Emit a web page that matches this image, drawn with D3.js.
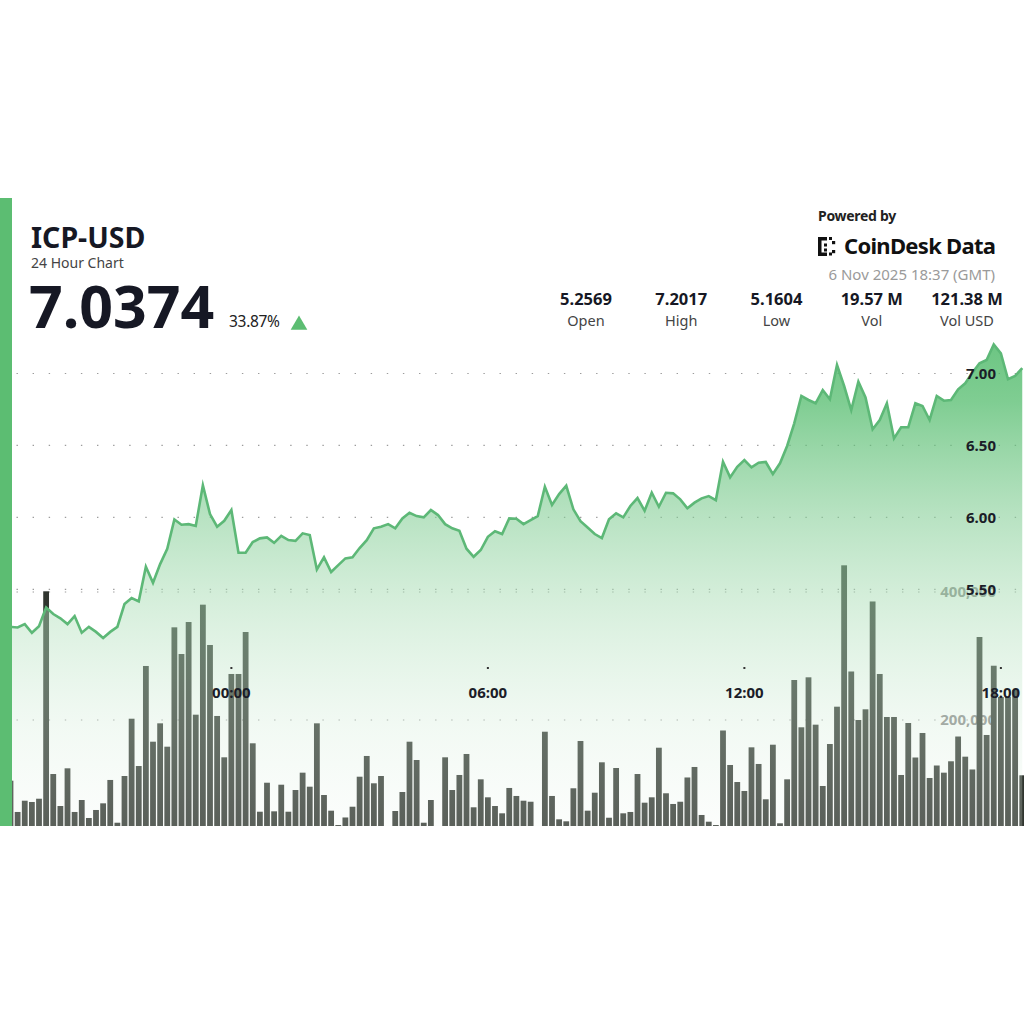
<!DOCTYPE html>
<html><head><meta charset="utf-8">
<script src="https://cdn.jsdelivr.net/npm/d3@7"></script>
<style>
body{margin:0;background:#fff}
svg{display:block}
text{font-family:"Noto Sans","Open Sans",sans-serif}
</style>
</head><body>
<svg id="chart" width="1024" height="1024"></svg>
<script>
// ---------- data ----------
const symbol = "ICP-USD";
const subtitle = "24 Hour Chart";
const lastPrice = "7.0374";
const changePct = "33.87%";
const statValues = ["5.2569", "7.2017", "5.1604", "19.57 M", "121.38 M"];
const statLabels = ["Open", "High", "Low", "Vol", "Vol USD"];
const poweredBy = "Powered by";
const brand = "CoinDesk Data";
const timestamp = "6 Nov 2025 18:37 (GMT)";
const priceTicks = [5.5, 6.0, 6.5, 7.0];
const volumeTicks = [200000, 400000];
const timeTicks = ["2025-11-06T00:00:00Z", "2025-11-06T06:00:00Z", "2025-11-06T12:00:00Z", "2025-11-06T18:00:00Z"];
const firstTime = "2025-11-05T18:50:00Z";
const intervalMinutes = 10;

const prices = [
5.239,5.235,5.258,5.198,5.244,5.374,5.328,5.298,5.258,5.314,
5.198,5.239,5.204,5.162,5.204,5.239,5.397,5.439,5.416,5.657,
5.545,5.675,5.782,5.986,5.949,5.953,5.940,6.223,6.023,5.935,
5.976,6.051,5.754,5.754,5.828,5.854,5.861,5.823,5.872,5.842,
5.837,5.889,5.877,5.638,5.722,5.620,5.668,5.715,5.722,5.787,
5.842,5.924,5.935,5.953,5.924,5.993,6.032,6.009,6.000,6.051,
6.016,5.953,5.924,5.907,5.782,5.726,5.773,5.865,5.903,5.884,
5.993,5.990,5.953,5.981,6.009,6.213,6.086,6.162,6.220,6.056,
5.974,5.930,5.884,5.856,5.986,6.028,6.000,6.079,6.134,6.046,
6.171,6.074,6.171,6.167,6.125,6.063,6.102,6.132,6.148,6.120,
6.387,6.278,6.352,6.398,6.348,6.380,6.385,6.301,6.376,6.496,
6.654,6.844,6.816,6.793,6.885,6.821,7.059,6.913,6.746,6.943,
6.834,6.612,6.677,6.793,6.549,6.626,6.626,6.793,6.774,6.677,
6.844,6.811,6.816,6.890,6.932,7.006,7.071,7.094,7.202,7.140,
6.960,6.983,7.037];

// volume per 10-minute interval, in thousands of ICP
const volumeThousands = [
105.2,56.3,73.9,71.9,77.0,401.1,115.6,65.6,124.5,56.3,
75.0,46.9,59.4,69.8,106.3,39.5,112.5,202.0,128.1,284.4,
166.1,194.8,158.3,344.8,303.1,353.1,208.3,380.2,317.2,206.3,
141.7,271.9,271.9,337.5,163.6,56.7,102.0,57.3,98.9,56.7,
90.6,117.7,95.8,194.8,82.8,58.3,35.9,47.7,64.5,111.4,
143.8,101.1,112.5,25.0,57.8,87.5,166.1,137.5,39.5,75.0,
25.0,141.7,90.6,114.1,146.9,63.6,107.3,79.2,65.6,54.2,
93.8,81.3,73.9,72.3,25.0,181.7,81.3,44.8,41.7,93.3,
167.2,58.3,86.4,133.9,47.3,125.0,54.2,56.3,115.6,70.8,
79.2,156.7,85.5,68.8,72.3,110.2,126.6,51.6,41.1,35.9,
183.6,129.7,103.1,89.1,157.3,131.3,76.1,161.4,38.6,107.3,
262.5,188.6,266.7,192.7,96.9,162.5,220.8,441.7,275.8,200.0,
216.7,385.2,271.9,204.7,204.7,114.1,195.3,141.4,179.7,109.4,
128.9,117.7,135.5,174.2,142.7,122.7,329.7,176.6,284.8,235.9,
235.9,246.9,113.6];

// ---------- build ----------
const t0 = new Date(firstTime).getTime();
const data = prices.map((p, i) => ({
  t: new Date(t0 + i * intervalMinutes * 60000),
  price: p,
  vol: volumeThousands[i] * 1000
}));

const svg = d3.select("#chart");
const W = 1024;
const cardTop = 198, cardBottom = 826, plotLeft = 12;

const x = d3.scaleUtc()
  .domain([data[0].t, data[data.length - 1].t])
  .range([10.5, 1022.25]);
const yP = d3.scaleLinear().domain([5.5, 7.0]).range([589.3, 373.5]);
const yV = d3.scaleLinear().domain([0, 400000]).range([848, 592]);

const defs = svg.append("defs");
defs.append("clipPath").attr("id", "plotClip")
  .append("rect").attr("x", plotLeft).attr("y", cardTop)
  .attr("width", W - plotLeft).attr("height", cardBottom - cardTop);

const grad = defs.append("linearGradient").attr("id", "areaGrad")
  .attr("gradientUnits", "userSpaceOnUse")
  .attr("x1", 0).attr("x2", 0)
  .attr("y1", yP(7.2017)).attr("y2", cardBottom);
[
  [0, "rgb(72,183,100)", 0.80],
  [0.12, "rgb(78,186,104)", 0.72],
  [0.35, "rgb(130,205,148)", 0.58],
  [0.55, "rgb(172,222,183)", 0.47],
  [0.8, "rgb(215,238,220)", 0.32],
  [1, "rgb(238,247,240)", 0.22]
].forEach(([o, c, a]) => grad.append("stop").attr("offset", o).attr("stop-color", c).attr("stop-opacity", a));

svg.append("rect").attr("width", W).attr("height", 1024).attr("fill", "#fff");

const plot = svg.append("g").attr("clip-path", "url(#plotClip)");

// gridlines (dotted)
const gridYs = priceTicks.map(yP).concat(volumeTicks.map(yV));
plot.append("g").selectAll("line").data(gridYs).join("line")
  .attr("x1", 16.5).attr("x2", W)
  .attr("y1", d => d).attr("y2", d => d)
  .attr("stroke", "#9c9c9c").attr("stroke-width", 1.2)
  .attr("stroke-dasharray", "1.4,14.7");

// volume axis labels (under bars and area)
plot.append("g").selectAll("text").data(volumeTicks).join("text")
  .attr("x", 996).attr("y", d => yV(d)).attr("dy", "0.36em")
  .attr("text-anchor", "end")
  .attr("font-size", 15).attr("font-weight", 700).attr("fill", "#8a8a8a")
  .text(d => d3.format(",")(d));

// volume bars
const barW = 5.8;
plot.append("g").selectAll("rect").data(data).join("rect")
  .attr("x", d => x(d.t) - barW / 2)
  .attr("y", d => yV(d.vol))
  .attr("width", barW)
  .attr("height", d => yV(0) - yV(d.vol))
  .attr("fill", "#30352f");

// price area
plot.append("path").datum(data)
  .attr("d", d3.area().x(d => x(d.t)).y0(yV(0)).y1(d => yP(d.price)))
  .attr("fill", "url(#areaGrad)");

// price line
plot.append("path").datum(data)
  .attr("d", d3.line().x(d => x(d.t)).y(d => yP(d.price)))
  .attr("fill", "none").attr("stroke", "#5db877").attr("stroke-width", 2.6)
  .attr("stroke-linejoin", "miter").attr("stroke-miterlimit", 6);

// price axis labels
plot.append("g").selectAll("text").data(priceTicks).join("text")
  .attr("x", 996).attr("y", d => yP(d)).attr("dy", "0.36em")
  .attr("text-anchor", "end")
  .attr("font-size", 15).attr("font-weight", 700).attr("fill", "#1b1d28")
  .text(d => d3.format(".2f")(d));

// time axis
const tt = timeTicks.map(s => new Date(s));
const fmt = d3.utcFormat("%H:%M");
plot.append("g").selectAll("rect").data(tt).join("rect")
  .attr("x", d => x(d) - 1).attr("y", 667).attr("width", 2).attr("height", 2)
  .attr("fill", "#333");
plot.append("g").selectAll("text").data(tt).join("text")
  .attr("x", d => x(d)).attr("y", 698)
  .attr("text-anchor", "middle")
  .attr("font-size", 15).attr("font-weight", 700).attr("fill", "#1b1d28")
  .text(d => fmt(d));

// left accent bar
svg.append("rect").attr("x", 0).attr("y", cardTop).attr("width", plotLeft)
  .attr("height", cardBottom - cardTop).attr("fill", "#5cbd72");

// ---------- header ----------
const dark = "#161824";
svg.append("text").attr("x", 31).attr("y", 248)
  .attr("font-size", 28.5).attr("font-weight", 700).attr("fill", dark).text(symbol);
svg.append("text").attr("x", 31).attr("y", 268)
  .attr("font-size", 14).attr("fill", "#444").text(subtitle);
svg.append("text").attr("x", 29).attr("y", 328)
  .attr("font-size", 59).attr("font-weight", 700).attr("fill", dark).text(lastPrice);
svg.append("text").attr("x", 229).attr("y", 327)
  .attr("font-size", 15.5).attr("fill", "#222").attr("letter-spacing", -0.3).text(changePct);
svg.append("path")
  .attr("d", d3.symbol().type(d3.symbolTriangle).size(120)())
  .attr("transform", "translate(299,325)")
  .attr("fill", "#5cbd72");

// stats
const statX = d3.scalePoint().domain(statLabels).range([586, 967]);
svg.append("g").selectAll("text").data(statLabels).join("text")
  .attr("x", d => statX(d)).attr("y", 305)
  .attr("text-anchor", "middle").attr("font-size", 16.5).attr("font-weight", 700)
  .attr("fill", dark).text((d, i) => statValues[i]);
svg.append("g").selectAll("text").data(statLabels).join("text")
  .attr("x", d => statX(d)).attr("y", 326)
  .attr("text-anchor", "middle").attr("font-size", 14.5)
  .attr("fill", "#444").text(d => d);

// brand
svg.append("text").attr("x", 818).attr("y", 221)
  .attr("font-size", 14).attr("font-weight", 700).attr("fill", "#222")
  .attr("letter-spacing", -0.3).text(poweredBy);
const logo = svg.append("g").attr("fill", "#111");
[[818,237,3.5,19],[818,237,9,3.5],[818,252.5,9,3.5],[824,243.5,3,3],[824,248.5,3,3],[832,241,3.2,3.2],[832,250,3.2,3.2],[829,237,3,3],[829,252.5,3,3]]
  .forEach(r => logo.append("rect").attr("x", r[0]).attr("y", r[1]).attr("width", r[2]).attr("height", r[3]));
svg.append("text").attr("x", 844).attr("y", 254)
  .attr("font-size", 22).attr("font-weight", 700).attr("fill", "#111")
  .attr("letter-spacing", -0.7).text(brand);
svg.append("text").attr("x", 995).attr("y", 280).attr("text-anchor", "end")
  .attr("font-size", 15).attr("fill", "#9a9a9a").text(timestamp);
</script>
</body></html>
